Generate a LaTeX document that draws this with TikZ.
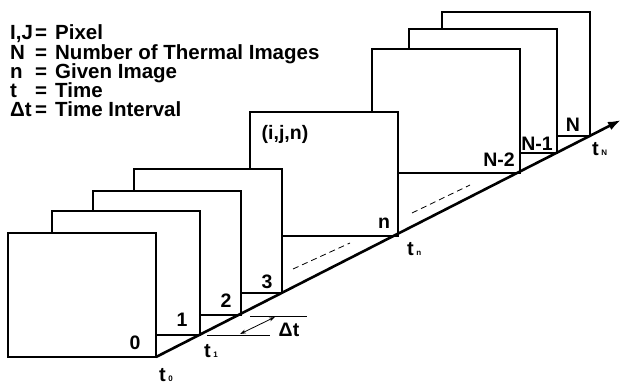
\documentclass[tikz,border=0pt]{standalone}
\usepackage{fontspec}
\setmainfont{Liberation Sans}
\usetikzlibrary{arrows.meta}
\tikzset{
  frame/.style={draw=black, fill=white, line width=1.7pt, minimum width=148pt, minimum height=124pt, inner sep=0pt, outer sep=0pt, anchor=south east},
  lbl/.style={inner sep=0pt, font=\fontsize{19.5}{19.5}\selectfont\bfseries},
  leg/.style={inner sep=0pt, anchor=base west, font=\fontsize{20.5}{19.25}\selectfont\bfseries},
  tl/.style={inner sep=0pt, anchor=base west, font=\fontsize{20}{20}\selectfont\bfseries},
  thin line/.style={line width=0.8pt},
}
\newcommand{\subsm}[1]{\hspace{2.5pt}{\fontsize{8}{8}\selectfont #1}}
\newcommand{\legrow}[3]{\makebox[25pt][l]{#1}\makebox[20pt][l]{#2}#3}
\begin{document}
\begin{tikzpicture}[x=1pt,y=-1pt]
\useasboundingbox (0,0) rectangle (622,385);
% frames back to front
\node[frame] (fN)  at (590,136) {};
\node[frame] (fN1) at (557,153) {};
\node[frame] (fN2) at (520,173) {};
\node[frame] (fn)  at (398,236) {};
\node[frame] (f3)  at (282,293) {};
\node[frame] (f2)  at (241,315) {};
\node[frame] (f1)  at (200,335) {};
\node[frame] (f0)  at (156,357) {};
% axis
\coordinate (tip) at (621,120);
\draw[line width=2.6pt, -{Latex[length=13pt,width=9pt]}] (f0.south east) -- (tip);
% dashed lines
\coordinate (d1a) at (293,269); \coordinate (d1b) at (350,243);
\coordinate (d2a) at (412,213); \coordinate (d2b) at (470,185);
\draw[thin line, dash pattern=on 6pt off 4pt] (d1a) -- (d1b);
\draw[thin line, dash pattern=on 6pt off 4pt] (d2a) -- (d2b);
% delta t
\coordinate (la) at (207,335); \coordinate (lb) at (270,335);
\coordinate (ua) at (250,316); \coordinate (ub) at (307,316);
\coordinate (aa) at (240,334); \coordinate (ab) at (275,317);
\draw[thin line] (la) -- (lb);
\draw[thin line] (ua) -- (ub);
\draw[thin line, {Stealth[length=6pt,width=4pt]}-{Stealth[length=6pt,width=4pt]}] (aa) -- (ab);
\node[lbl] (dt) at (289,330) {Δt};
% frame labels
\node[lbl] (l0) at (135,343) {0};
\node[lbl] (l1) at (182,320) {1};
\node[lbl] (l2) at (226,301) {2};
\node[lbl] (l3) at (267,282) {3};
\node[lbl] (ln) at (384,223) {n};
\node[lbl] (lN2) at (499,160) {N-2};
\node[lbl] (lN1) at (537,144) {N-1};
\node[lbl] (lN) at (573,125) {N};
\node[lbl] (ijn) at (285,134) {(i,j,n)};
% time labels
\node[tl] (t0) at (159,381) {t\subsm{0}};
\node[tl] (t1) at (204,357) {t\subsm{1}};
\node[tl] (tn) at (407,256) {t\subsm{n}};
\node[tl] (tN) at (592,156) {t\subsm{N}};
% legend
\node[leg] (legend) at (10,40) {%
  \parbox[t]{320pt}{\baselineskip=19.25pt\lineskiplimit=-100pt\lineskip=0pt
  \legrow{I,J}{=}{Pixel}\par
  \legrow{N}{=}{Number of Thermal Images}\par
  \legrow{n}{=}{Given Image}\par
  \legrow{t}{=}{Time}\par
  \legrow{Δt}{=}{Time Interval}}};
\end{tikzpicture}
\end{document}
